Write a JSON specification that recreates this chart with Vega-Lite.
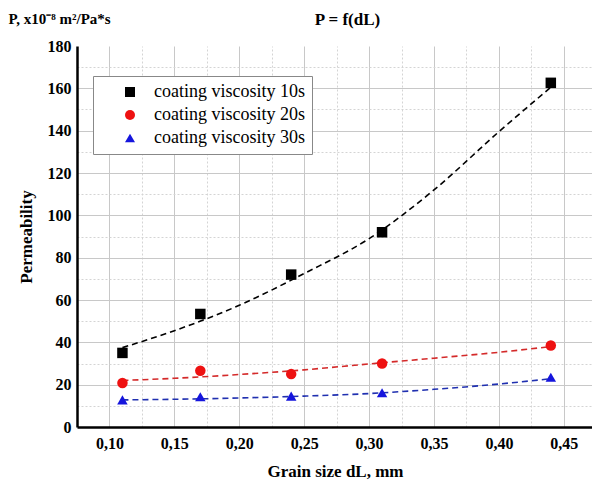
{
  "$schema": "https://vega.github.io/schema/vega-lite/v6.json",
  "width": 516,
  "height": 381,
  "autosize": {"type": "none"},
  "padding": {"left": 77, "top": 46, "right": 0, "bottom": 55},
  "background": "white",
  "config": {
    "view": {"stroke": null},
    "axis": {"labelFont": "Liberation Serif", "titleFont": "Liberation Serif", "labelColor": "black", "titleColor": "black"},
    "legend": {"labelFont": "Liberation Serif", "labelFontSize": 18, "labelColor": "black", "fillColor": "white", "strokeColor": "#888888", "padding": 7, "rowPadding": 5, "symbolOffset": 21, "labelOffset": 15, "symbolSize": 100, "symbolStrokeWidth": 0, "labelLimit": 300}
  },
  "datasets": {
    "fits": [
      {"series": "coating viscosity 10s", "d": 0.11, "p": 37.5},
      {"series": "coating viscosity 10s", "d": 0.15, "p": 45.5},
      {"series": "coating viscosity 10s", "d": 0.20, "p": 57.5},
      {"series": "coating viscosity 10s", "d": 0.25, "p": 72.5},
      {"series": "coating viscosity 10s", "d": 0.30, "p": 89},
      {"series": "coating viscosity 10s", "d": 0.35, "p": 112},
      {"series": "coating viscosity 10s", "d": 0.40, "p": 139.5},
      {"series": "coating viscosity 10s", "d": 0.44, "p": 160.5},
      {"series": "coating viscosity 20s", "d": 0.11, "p": 22},
      {"series": "coating viscosity 20s", "d": 0.15, "p": 23},
      {"series": "coating viscosity 20s", "d": 0.20, "p": 24.8},
      {"series": "coating viscosity 20s", "d": 0.25, "p": 27},
      {"series": "coating viscosity 20s", "d": 0.30, "p": 29.8},
      {"series": "coating viscosity 20s", "d": 0.35, "p": 32.5},
      {"series": "coating viscosity 20s", "d": 0.40, "p": 35.3},
      {"series": "coating viscosity 20s", "d": 0.44, "p": 38},
      {"series": "coating viscosity 30s", "d": 0.11, "p": 12.8},
      {"series": "coating viscosity 30s", "d": 0.15, "p": 13.1},
      {"series": "coating viscosity 30s", "d": 0.20, "p": 13.7},
      {"series": "coating viscosity 30s", "d": 0.25, "p": 14.6},
      {"series": "coating viscosity 30s", "d": 0.30, "p": 15.8},
      {"series": "coating viscosity 30s", "d": 0.35, "p": 17.8},
      {"series": "coating viscosity 30s", "d": 0.40, "p": 20.3},
      {"series": "coating viscosity 30s", "d": 0.44, "p": 22.8}
    ],
    "points": [
      {"series": "coating viscosity 10s", "d": 0.11, "p": 35},
      {"series": "coating viscosity 10s", "d": 0.17, "p": 53.4},
      {"series": "coating viscosity 10s", "d": 0.24, "p": 72},
      {"series": "coating viscosity 10s", "d": 0.31, "p": 92},
      {"series": "coating viscosity 10s", "d": 0.44, "p": 162.6},
      {"series": "coating viscosity 20s", "d": 0.11, "p": 20.8},
      {"series": "coating viscosity 20s", "d": 0.17, "p": 26.6},
      {"series": "coating viscosity 20s", "d": 0.24, "p": 25},
      {"series": "coating viscosity 20s", "d": 0.31, "p": 30},
      {"series": "coating viscosity 20s", "d": 0.44, "p": 38.5},
      {"series": "coating viscosity 30s", "d": 0.11, "p": 12.8},
      {"series": "coating viscosity 30s", "d": 0.17, "p": 14.3},
      {"series": "coating viscosity 30s", "d": 0.24, "p": 14.6},
      {"series": "coating viscosity 30s", "d": 0.31, "p": 16.2},
      {"series": "coating viscosity 30s", "d": 0.44, "p": 23.5}
    ]
  },
  "layer": [
    {
      "data": {"name": "fits"},
      "transform": [{"filter": "datum.series === 'coating viscosity 10s'"}],
      "mark": {"type": "line", "strokeDash": [6, 4], "strokeWidth": 1.6, "interpolate": "monotone", "color": "#000000"},
      "encoding": {
        "x": {"field": "d", "type": "quantitative",
          "scale": {"domain": [0.075, 0.4725], "nice": false, "zero": false},
          "axis": {"orient": "top", "values": [0.125, 0.175, 0.225, 0.275, 0.325, 0.375, 0.425], "labels": false, "ticks": false, "domain": false, "grid": true, "gridColor": "#d4d4d4", "gridDash": [2, 2], "gridWidth": 1,
            "title": "P = f(dL)", "titleFontSize": 17, "titleFontWeight": "bold", "titleAlign": "center", "titleBaseline": "alphabetic", "titleX": 270, "titleY": -22}},
        "y": {"field": "p", "type": "quantitative",
          "scale": {"domain": [0, 180], "nice": false},
          "axis": {"orient": "left", "values": [10, 30, 50, 70, 90, 110, 130, 150, 170], "labels": false, "ticks": false, "domain": false, "grid": true, "gridColor": "#d4d4d4", "gridDash": [2, 2], "gridWidth": 1,
            "title": "P, x10⁻⁸ m²/Pa*s", "titleAngle": 0, "titleAlign": "left", "titleBaseline": "alphabetic", "titleX": -69, "titleY": -23, "titleFontSize": 15, "titleFontWeight": "bold"}}
      }
    },
    {
      "data": {"name": "fits"},
      "transform": [{"filter": "datum.series === 'coating viscosity 20s'"}],
      "mark": {"type": "line", "strokeDash": [6, 4], "strokeWidth": 1.6, "interpolate": "monotone", "color": "#d42a2a"},
      "encoding": {
        "x": {"field": "d", "type": "quantitative", "axis": null},
        "y": {"field": "p", "type": "quantitative", "axis": null}
      }
    },
    {
      "data": {"name": "fits"},
      "transform": [{"filter": "datum.series === 'coating viscosity 30s'"}],
      "mark": {"type": "line", "strokeDash": [6, 4], "strokeWidth": 1.6, "interpolate": "monotone", "color": "#2030b0"},
      "encoding": {
        "x": {"field": "d", "type": "quantitative", "axis": null},
        "y": {"field": "p", "type": "quantitative", "axis": null}
      }
    },
    {
      "data": {"name": "points"},
      "mark": {"type": "point", "filled": true, "opacity": 1, "size": 110},
      "encoding": {
        "x": {"field": "d", "type": "quantitative",
          "axis": {"orient": "bottom", "values": [0.10, 0.15, 0.20, 0.25, 0.30, 0.35, 0.40, 0.45], "labelExpr": "replace(format(datum.value, '.2f'), '.', ',')", "labelFontSize": 16, "labelFontWeight": "bold", "labelPadding": 8, "ticks": false, "domain": true, "domainColor": "black", "domainWidth": 2.5, "grid": true, "gridColor": "#c8c8c8", "gridWidth": 1,
            "title": "Grain size dL, mm", "titleFontSize": 17, "titleFontWeight": "bold", "titlePadding": 12}},
        "y": {"field": "p", "type": "quantitative",
          "axis": {"orient": "left", "values": [0, 20, 40, 60, 80, 100, 120, 140, 160, 180], "labelFontSize": 16, "labelFontWeight": "bold", "labelPadding": 6, "ticks": false, "domain": true, "domainColor": "black", "domainWidth": 2.5, "grid": true, "gridColor": "#c8c8c8", "gridWidth": 1,
            "gridOpacity": {"condition": {"test": "datum.value >= 180 || datum.value <= 0", "value": 0}, "value": 1},
            "title": "Permeability", "titleFontSize": 17, "titleFontWeight": "bold", "titlePadding": 12}},
        "color": {"field": "series", "type": "nominal",
          "scale": {"domain": ["coating viscosity 10s", "coating viscosity 20s", "coating viscosity 30s"], "range": ["#000000", "#ee1111", "#1515dd"]},
          "legend": {"orient": "none", "legendX": 16, "legendY": 30, "title": null}},
        "shape": {"field": "series", "type": "nominal",
          "scale": {"domain": ["coating viscosity 10s", "coating viscosity 20s", "coating viscosity 30s"], "range": ["square", "circle", "triangle-up"]},
          "legend": {"orient": "none", "legendX": 16, "legendY": 30, "title": null}}
      }
    }
  ],
  "resolve": {"axis": {"x": "independent", "y": "independent"}}
}
